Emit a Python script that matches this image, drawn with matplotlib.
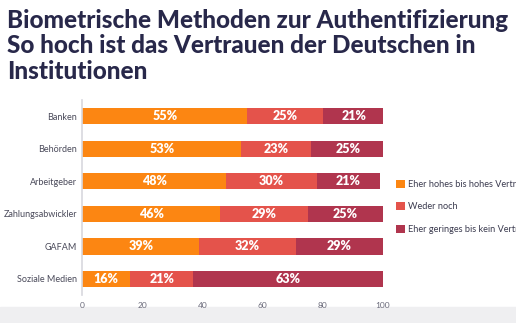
import matplotlib.pyplot as plt
import numpy as np

# Vertrauen in Institutionen (Prozent)
institutionen = ["Banken", "Behörden", "Arbeitgeber", "Zahlungsabwickler", "GAFAM", "Soziale Medien"]
hoch = [55, 53, 48, 46, 39, 16]
weder = [25, 23, 30, 29, 32, 21]
gering = [21, 25, 21, 25, 29, 63]
serien = ["Eher hohes bis hohes Vertrauen", "Weder noch", "Eher geringes bis kein Vertrauen"]
farben = ["#FC8612", "#E4534B", "#B0354E"]
xticks = [0, 20, 40, 60, 80, 100]

fig = plt.figure(figsize=(5.16, 3.23), dpi=100)
ax = fig.add_axes([0.159, 0.086, 0.583, 0.605])

y = np.arange(len(institutionen))
left = np.zeros(len(institutionen))
for werte, name, farbe in zip([hoch, weder, gering], serien, farben):
    werte = np.array(werte)
    bars = ax.barh(y, werte, left=left, height=0.5, color=farbe, label=name)
    for b, w in zip(bars, werte):
        ax.text(b.get_x() + b.get_width() / 2, b.get_y() + b.get_height() / 2, f"{w}%",
                ha="center", va="center", color="white", fontsize=9, fontweight="heavy",
                family="Lato")
    left += werte

ax.set_ylim(len(institutionen) - 0.5, -0.5)
ax.set_xlim(0, 100)
ax.set_yticks(y)
ax.set_yticklabels(institutionen, fontsize=6.5, color="#4a4a5a", family="Lato")
ax.set_xticks(xticks)
ax.set_xticklabels([str(t) for t in xticks], fontsize=6, color="#6a6a7a", family="Lato")
ax.tick_params(axis="y", length=0, pad=3.5)
ax.tick_params(axis="x", length=0, pad=5)
for s in ["top", "right", "bottom"]:
    ax.spines[s].set_visible(False)
ax.spines["left"].set_color("#d8d8de")
ax.spines["left"].set_linewidth(1.2)

fig.legend(loc="center left", bbox_to_anchor=(0.752, 0.36), frameon=False,
           prop={"family": "Lato", "size": 6.6}, labelcolor="#3a3a4e",
           handlelength=1.0, handleheight=1.0, handletextpad=0.3, labelspacing=1.45)

fig.text(0.014, 0.972, "Biometrische Methoden zur Authentifizierung\nSo hoch ist das Vertrauen der Deutschen in\nInstitutionen",
         ha="left", va="top", fontsize=17.5, fontweight="black", color="#28284a",
         family="Lato", linespacing=1.12)

# heller Streifen am unteren Rand
fig.patches.append(plt.Rectangle((0, 0), 1, 0.05, transform=fig.transFigure,
                                 color="#efeff1", zorder=-1))

fig.savefig("out.png", dpi=100)
